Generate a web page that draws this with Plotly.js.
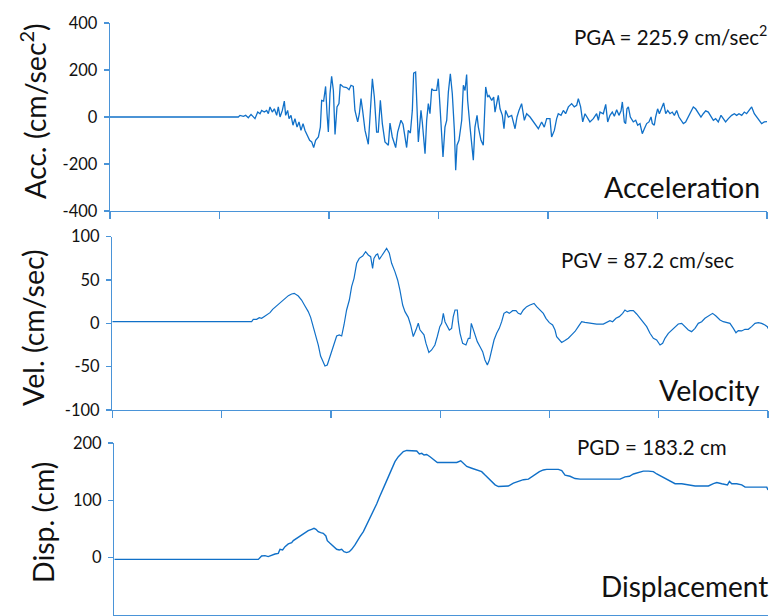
<!DOCTYPE html>
<html>
<head>
<meta charset="utf-8">
<script src="https://cdn.plot.ly/plotly-3.0.1.min.js"></script>
<style>html,body{margin:0;padding:0;background:#fff;}#chart{width:770px;height:616px;}</style>
</head>
<body>
<div id="chart"></div>
<script>
// ---- data: [time (s), value] ----
const accSamples = [
 [0,0],[11.72,0],[11.87,7],[12.18,3],[12.39,7],[12.63,-3],[12.88,11],[13.09,0],[13.24,-7],[13.49,21],[13.70,14],
 [13.85,28],[14.09,21],[14.31,28],[14.46,14],[14.61,43],[14.82,21],[15.01,35],[15.22,7],[15.37,43],[15.53,0],
 [15.74,28],[15.92,68],[16.04,7],[16.22,28],[16.35,-7],[16.53,7],[16.71,-35],[16.89,-7],[17.08,-43],[17.26,-21],
 [17.44,-57],[17.63,-28],[17.81,-57],[18.05,-78],[18.23,-99],[18.42,-106],[18.60,-130],[18.78,-99],[19.03,-85],
 [19.21,-43],[19.33,71],[19.51,68],[19.69,130],[19.82,14],[19.94,-64],[20.09,99],[20.24,173],[20.40,113],[20.55,-74],
 [20.73,43],[20.91,57],[21.03,139],[21.31,128],[21.61,125],[21.83,116],[22.01,135],[22.22,130],[22.37,28],[22.62,-21],
 [22.77,14],[22.92,78],[23.07,28],[23.29,-57],[23.59,-116],[23.77,43],[23.96,163],[24.14,85],[24.35,-64],[24.50,-64],
 [24.69,71],[24.87,-28],[25.11,-106],[25.42,-120],[25.57,-26],[25.78,-85],[26.09,-130],[26.27,-64],[26.57,-14],
 [26.76,-31],[27.09,-130],[27.24,-57],[27.43,-68],[27.61,28],[27.73,187],[27.91,191],
 [28.16,-106],[28.40,28],[28.52,-21],[28.77,-156],[28.92,-14],[29.07,57],[29.22,14],[29.38,120],[29.53,113],[29.83,113],
 [29.98,163],[30.14,43],[30.29,-71],[30.41,-170],[30.59,-43],[30.75,-14],[30.90,106],[31.08,184],[31.26,99],[31.45,-57],
 [31.57,-226],[31.69,-120],[31.87,-99],[31.99,-43],[32.12,-14],[32.27,135],[32.42,113],[32.57,181],[32.66,71],[32.88,-43],
 [33.03,-128],[33.18,-184],[33.33,-43],[33.52,7],[33.64,-43],[33.88,-99],[34.09,-120],[34.19,0],[34.31,128],[34.49,85],
 [34.61,92],[34.86,71],[35.04,85],[35.16,21],[35.31,64],[35.46,92],[35.62,35],[35.83,7],[35.98,-50],[36.13,28],
 [36.38,0],[36.68,7],[36.99,-50],[37.17,0],[37.35,28],[37.59,57],[37.84,-14],[38.05,14],[38.36,0],[38.57,-14],
 [38.81,-28],[39.12,-50],[39.42,-21],[39.66,-43],[39.88,-7],[40.18,-7],[40.33,-85],[40.58,-57],[40.79,-7],[40.94,14],
 [41.19,7],[41.40,28],[41.61,14],[41.86,43],[42.16,57],[42.40,43],[42.62,50],[42.77,78],[42.98,43],[43.17,-21],
 [43.38,14],[43.62,-7],[43.83,-21],[44.14,-7],[44.44,14],[44.60,-14],[44.75,21],
 [45.05,14],[45.27,54],[45.45,-21],[45.66,7],[45.87,21],[46.06,3],[46.27,31],[46.48,7],[46.67,26],[46.79,64],
 [46.97,-21],[47.09,-28],[47.21,35],[47.34,43],[47.52,0],[47.64,-11],[47.79,-21],[48.01,-14],[48.19,-35],[48.40,-28],
 [48.61,-71],[48.80,-50],[49.01,-28],[49.22,-21],[49.41,0],[49.53,-28],[49.71,-35],[49.83,0],[50.01,35],[50.17,14],
 [50.38,35],[50.56,60],[50.75,14],[50.93,28],[51.14,14],[51.35,21],[51.54,7],[51.75,28],[51.96,0],[52.15,-14],
 [52.36,-28],[52.57,-21],[52.81,0],[53.06,28],[53.27,43],[53.48,35],[53.73,14],[53.97,0],[54.18,14],[54.40,26],
 [54.64,21],[54.89,0],[55.10,-14],[55.31,-7],[55.55,-21],[55.80,7],[56.01,-7],[56.22,-21],[56.47,-7],[56.77,7],
 [57.02,14],[57.23,7],[57.44,14],[57.69,7],[57.93,21],[58.14,14],[58.36,28],[58.60,43],[58.84,14],[59.06,0],
 [59.27,-14],[59.51,-28],[59.76,-21],[60,-20]
];

const velSamples = [
 [0,1.8],[12.75,1.8],[12.90,4.5],[13.21,4.5],[13.45,6.4],[13.66,5.7],[13.88,7.6],[14.12,9.5],[14.43,12.2],[14.67,16.0],
 [14.88,18.3],[15.19,22.2],[15.50,24.9],[15.80,28.7],[16.11,31.8],[16.41,33.7],[16.65,34.5],[17.02,31.4],[17.32,26.8],
 [17.63,19.9],[17.93,13.4],[18.15,6.8],[18.39,-3.9],[18.63,-14.7],[18.85,-25.1],[19.06,-37.8],[19.25,-44.3],[19.46,-49.3],
 [19.67,-48.1],[19.86,-40.5],[20.07,-30.8],[20.28,-25.1],[20.53,-14.7],[20.77,-13.5],[20.99,-14.7],[21.20,-2.0],
 [21.44,15.3],[21.69,26.8],[21.90,42.2],[22.12,51.8],[22.36,69.1],[22.60,74.8],[22.91,77.5],[23.18,82.5],[23.42,78.7],
 [23.64,76.8],[23.82,63.3],[23.94,74.8],[24.13,78.7],[24.28,79.8],[24.43,73.7],[24.64,77.5],[24.86,81.4],[25.10,86.4],
 [25.35,80.6],[25.56,69.1],[25.86,59.5],[26.11,49.9],[26.32,38.3],[26.57,21.0],[26.78,13.4],[27.08,6.8],[27.30,-2.0],
 [27.54,-15.3],[27.79,-7.6],[28.00,0],[28.15,-7.6],[28.30,-9.5],[28.52,-13.4],[28.70,-23.0],[28.97,-33.7],[29.22,-30.8],
 [29.52,-25.1],[29.74,-15.3],[29.97,-3.9],
 [30.14,-0.1],[30.29,11.4],[30.44,1.8],[30.66,-3.9],[30.84,-7.8],[31.05,-5.9],[31.20,7.6],[31.36,15.3],[31.57,15.3],
 [31.66,1.8],[31.82,-11.6],[32.06,-23.1],[32.36,-25.1],[32.58,-17.4],[32.73,-17.4],[32.85,-0.1],[33.04,-7.8],[33.19,-11.6],
 [33.40,-21.2],[33.65,-27.0],[33.89,-32.8],[34.10,-42.4],[34.32,-48.1],[34.50,-42.4],[34.71,-30.8],[34.93,-19.3],
 [35.17,-11.6],[35.41,-5.9],[35.63,1.8],[35.84,11.4],[36.09,13.4],[36.33,11.4],[36.63,14.5],[36.94,14.5],[37.15,11.4],
 [37.37,10.3],[37.61,15.3],[37.92,19.1],[38.22,21.0],[38.59,22.9],[38.83,19.1],[39.14,15.3],[39.44,11.4],[39.68,5.7],
 [39.99,0.7],[40.29,-2.0],[40.51,-7.8],[40.66,-15.5],[40.90,-19.3],[41.12,-22.2],[41.42,-19.9],[41.73,-17.2],[42.03,-13.4],
 [42.34,-9.5],[42.64,-3.9],[42.95,1.8],[43.25,1.1],[43.71,-0.1],[44.32,-0.9],[44.93,-0.9],[45.24,0.7],[45.54,3.0],
 [45.78,1.8],[46.09,5.7],[46.39,7.6],[46.70,11.4],[46.91,15.3],[47.13,13.4],[47.37,14.5],[47.68,14.5],[47.98,10.7],
 [48.29,5.7],[48.59,1.8],[48.90,-3.9],[49.20,-11.6],[49.51,-17.4],[49.81,-19.3],[50.12,-25.1],[50.36,-23.1],[50.57,-17.4],
 [50.88,-11.6],[51.18,-7.8],[51.49,-3.9],[51.79,-0.9],[52.10,-0.1],[52.40,-3.9],[52.71,-7.8],[53.01,-9.7],[53.32,-5.9],
 [53.62,-0.1],[53.93,1.8],[54.23,5.7],[54.54,8.4],[54.93,11.4],[55.24,8.4],[55.61,3.7],[55.91,1.8],[56.22,0.7],
 [56.52,-0.1],[56.83,-5.9],[57.07,-10.9],[57.28,-8.5],[57.59,-8.9],[57.89,-7.0],[58.20,-7.0],[58.50,-3.9],[58.81,-0.1],
 [59.11,0.7],[59.42,-0.1],[59.72,-2.0],[59.94,-3.9],[60,-6]
];

const dispSamples = [
 [0,-3],[13.22,-3],[13.52,2.9],[13.83,3.5],[14.13,1.8],[14.44,4.7],[14.75,6.4],[15.05,7.6],[15.21,14.6],[15.45,13.4],
 [15.67,19.2],[15.97,23.9],[16.28,26.2],[16.43,29.7],[16.74,33.7],[17.04,37.8],[17.35,42.5],[17.59,45.4],[17.80,47.1],
 [18.11,49.5],[18.33,51.2],[18.51,49.5],[18.72,45.4],[18.94,43.7],[19.18,42.5],[19.42,37.8],[19.55,29.7],[19.80,25.1],
 [20.10,20.4],[20.41,14.6],[20.65,13.4],[20.87,14.6],[21.08,10.5],[21.33,8.8],[21.57,10.5],[21.79,14.6],[22.09,22.2],
 [22.31,29.7],[22.55,36.7],[22.86,45.4],[23.16,57.0],[23.47,70.4],[23.78,83.2],[24.08,93.7],[24.33,105.3],[24.54,113.4],
 [24.76,123.9],[25.00,134.4],[25.24,144.2],[25.46,155.9],[25.76,167.5],[26.07,176.2],
 [26.29,181],[26.53,185],[26.84,187],[27.14,187],[27.45,187],[27.76,186],[28.00,181],[28.22,182],[28.43,179],[28.67,180],
 [28.98,176],[29.29,171],[29.65,166],[30.05,166],[30.51,166],[30.97,166],[31.43,166],[31.80,169],[32.04,165],[32.35,159],
 [32.81,156],[33.26,153],[33.72,150],[34.03,144],[34.34,138],[34.64,133],[34.95,127],[35.25,124],[35.71,124],[36.17,125],
 [36.63,130],[37.09,133],[37.55,136],[38.01,137],[38.31,141],[38.62,146],[39.02,150],[39.38,153],[39.69,154],[40.15,154],
 [40.76,154],[41.07,152],[41.37,144],[41.83,142],[42.29,138],[42.75,137],[43.67,137],[44.59,137],[45.81,137],[46.42,137],
 [46.88,141],[47.28,142],[47.65,146],[48.11,149],[48.56,151],[49.02,151],[49.48,150],[49.79,146],[50.25,141],[50.64,137],
 [51.01,133],[51.47,129],[52.08,129],[52.70,127],[53.31,125],[54.07,125],[54.53,125],[54.99,129],[55.30,131],[55.76,129],
 [56.28,127],[56.46,133],[56.67,129],[57.13,129],[57.59,127],[57.90,123],[58.66,123],[59.43,123],[59.89,123],[60,118]
];

const timeTicks = [0, 10, 20, 30, 40, 50, 60];
const accTicks = [-400, -200, 0, 200, 400];
const velTicks = [-100, -50, 0, 50, 100];
const dispTicks = [0, 100, 200];

const panelTitles = ['Acc. (cm/sec<sup>2</sup>)', 'Vel. (cm/sec)', 'Disp. (cm)'];
const panelNames = ['Acceleration', 'Velocity', 'Displacement'];
const peakLabels = ['PGA = 225.9 cm/sec<sup>2</sup>', 'PGV = 87.2 cm/sec', 'PGD = 183.2 cm'];

// ---- styling ----
const lineColor = '#1070c8';
const axisColor = '#4a94d8';
const textColor = '#111111';
const FONT = 'Lato, "Open Sans", sans-serif';

function col(arr, i) { return arr.map(p => p[i]); }
function tickText(vals) { return vals.map(v => String(v)); } // plain hyphen minus like the reference

const traces = [
  {x: col(accSamples,0), y: col(accSamples,1), xaxis:'x', yaxis:'y', type:'scatter', mode:'lines',
   line:{color:lineColor, width:1.3}, name: panelNames[0], hoverinfo:'skip'},
  {x: col(velSamples,0), y: col(velSamples,1), xaxis:'x2', yaxis:'y2', type:'scatter', mode:'lines',
   line:{color:lineColor, width:1.2}, name: panelNames[1], hoverinfo:'skip'},
  {x: col(dispSamples,0), y: col(dispSamples,1), xaxis:'x3', yaxis:'y3', type:'scatter', mode:'lines',
   line:{color:lineColor, width:1.4}, name: panelNames[2], hoverinfo:'skip'}
];

const W = 770, H = 616;
function px(x) { return x / W; }
function py(y) { return (H - y) / H; }

function xAxis(anchor, left, right) {
  return {domain:[px(left), px(right)], range:[0,60], anchor:anchor, tickmode:'array', tickvals:timeTicks,
    showticklabels:false, ticks:'outside', ticklen:7, tickwidth:1.3, tickcolor:axisColor,
    showline:true, linecolor:axisColor, linewidth:1.3, showgrid:false, zeroline:false, fixedrange:true};
}
function yAxis(anchor, top, bottom, range, ticks) {
  return {domain:[py(bottom), py(top)], range:range, anchor:anchor, tickmode:'array', tickvals:ticks,
    ticktext: tickText(ticks),
    ticks:'outside', ticklen:5, tickwidth:1.3, tickcolor:axisColor, ticklabelstandoff:3,
    tickfont:{family:FONT, size:16.5, color:textColor},
    showline:true, linecolor:axisColor, linewidth:1.3, showgrid:false, zeroline:false, fixedrange:true};
}

const annotations = [
  // y-axis titles
  {text: panelTitles[0], x:px(33), y:py(111), xref:'paper', yref:'paper', textangle:-90, showarrow:false,
   xanchor:'center', yanchor:'middle', font:{family:FONT, size:28.5, color:textColor}},
  {text: panelTitles[1], x:px(33), y:py(328), xref:'paper', yref:'paper', textangle:-90, showarrow:false,
   xanchor:'center', yanchor:'middle', font:{family:FONT, size:28.5, color:textColor}},
  {text: panelTitles[2], x:px(43), y:py(523), xref:'paper', yref:'paper', textangle:-90, showarrow:false,
   xanchor:'center', yanchor:'middle', font:{family:FONT, size:28.5, color:textColor}},
  // panel names
  {text: panelNames[0], x:px(762), y:py(187), xref:'paper', yref:'paper', showarrow:false,
   xanchor:'right', yanchor:'middle', font:{family:FONT, size:28.5, color:textColor}},
  {text: panelNames[1], x:px(762), y:py(390), xref:'paper', yref:'paper', showarrow:false,
   xanchor:'right', yanchor:'middle', font:{family:FONT, size:28.5, color:textColor}},
  {text: panelNames[2], x:px(770), y:py(586), xref:'paper', yref:'paper', showarrow:false,
   xanchor:'right', yanchor:'middle', font:{family:FONT, size:28, color:textColor}},
  // peak values
  {text: peakLabels[0], x:px(769), y:py(36), xref:'paper', yref:'paper', showarrow:false,
   xanchor:'right', yanchor:'middle', font:{family:FONT, size:20.5, color:textColor}},
  {text: peakLabels[1], x:px(736), y:py(260), xref:'paper', yref:'paper', showarrow:false,
   xanchor:'right', yanchor:'middle', font:{family:FONT, size:20.5, color:textColor}},
  {text: peakLabels[2], x:px(729), y:py(447), xref:'paper', yref:'paper', showarrow:false,
   xanchor:'right', yanchor:'middle', font:{family:FONT, size:20.5, color:textColor}}
];

const layout = {
  width: W, height: H,
  margin:{l:0, r:0, t:0, b:0},
  paper_bgcolor:'#ffffff', plot_bgcolor:'#ffffff',
  showlegend:false,
  font:{family:FONT, color:textColor},
  xaxis: xAxis('y', 110, 767),
  yaxis: yAxis('x', 23, 211, [-400, 400], accTicks),
  xaxis2: xAxis('y2', 112.3, 768),
  yaxis2: yAxis('x2', 236.5, 410, [-100, 100], velTicks),
  xaxis3: xAxis('y3', 114.3, 768),
  yaxis3: yAxis('x3', 443, 615, [-100, 200], dispTicks),
  annotations: annotations
};

Plotly.newPlot('chart', traces, layout, {staticPlot:true, displayModeBar:false});
</script>
</body>
</html>
